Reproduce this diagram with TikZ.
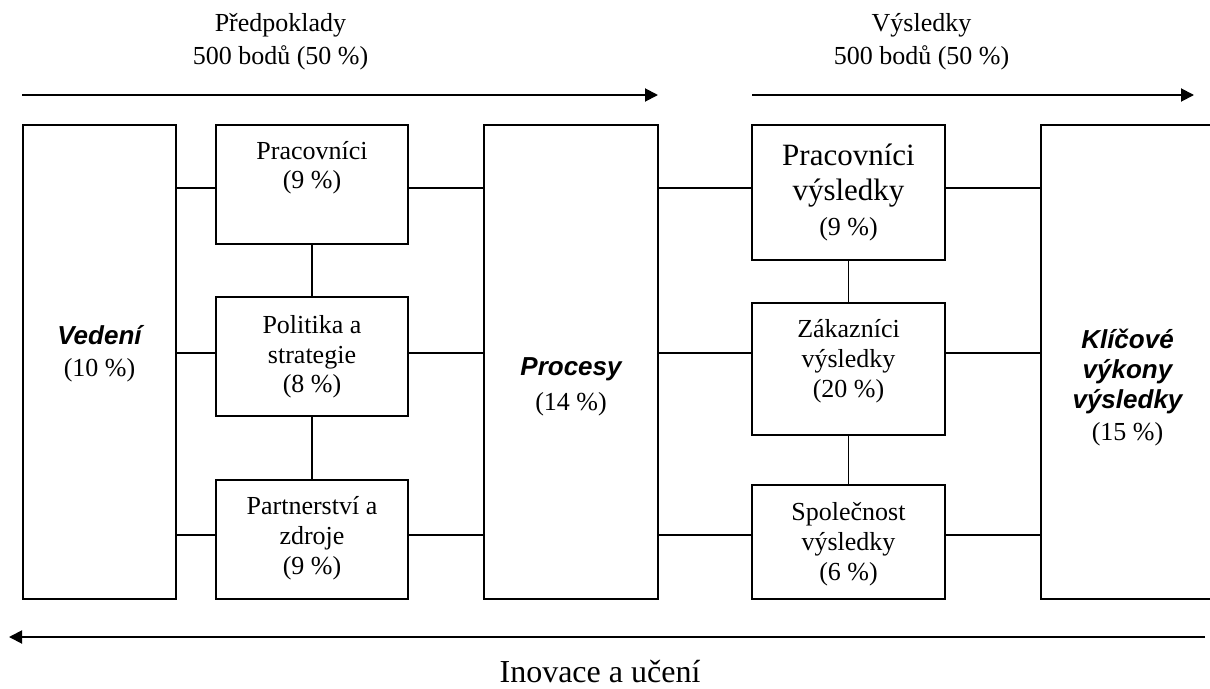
\documentclass[tikz,border=0pt]{standalone}
\usepackage{fontspec}
\setmainfont{Liberation Serif}
\newfontfamily\headsans{Liberation Sans}
\usetikzlibrary{arrows.meta}
\begin{document}
\begin{tikzpicture}[x=1pt,y=-1pt,
  box/.style={draw, line width=1.8pt, rectangle, inner sep=0pt},
  wire/.style={line width=1.8pt},
  flow/.style={line width=1.9pt, -{Triangle[length=13pt,width=13pt]}},
  txt/.style={align=center, inner sep=0pt}]
\useasboundingbox (0,0) rectangle (1210,688);

% frames
\node[box, minimum width=153pt, minimum height=474pt] (ved)  at (99.5,362) {};
\node[box, minimum width=192pt, minimum height=119pt] (prac) at (312,184.5) {};
\node[box, minimum width=192pt, minimum height=119pt] (pol)  at (312,356.5) {};
\node[box, minimum width=192pt, minimum height=119pt] (part) at (312,539.5) {};
\node[box, minimum width=174pt, minimum height=474pt] (proc) at (571,362) {};
\node[box, minimum width=193pt, minimum height=135pt] (pracv) at (848.5,192.5) {};
\node[box, minimum width=193pt, minimum height=132pt] (zak)  at (848.5,369) {};
\node[box, minimum width=193pt, minimum height=114pt] (spol) at (848.5,542) {};
\node[box, minimum width=174pt, minimum height=474pt] (klic) at (1128,362) {};

% texts
\node[txt, font=\fontsize{26}{32}\selectfont] (tved) at (99.5,354)
  {{\headsans\bfseries\itshape Vedení}\\(10 \%)};
\node[txt, font=\fontsize{26}{29}\selectfont] (tprac) at (312,168)
  {Pracovníci\\(9 \%)};
\node[txt, font=\fontsize{26}{29.5}\selectfont] (tpol) at (312,357)
  {Politika a\\strategie\\(8 \%)};
\node[txt, font=\fontsize{26}{30}\selectfont] (tpart) at (312,538.5)
  {Partnerství a\\zdroje\\(9 \%)};
\node[txt, font=\fontsize{26}{35}\selectfont] (tproc) at (571,387)
  {{\headsans\bfseries\itshape Procesy}\\(14 \%)};
\node[txt, font=\fontsize{31}{35}\selectfont] (tpracv) at (848.5,192)
  {Pracovníci\\výsledky\\{\fontsize{26}{30}\selectfont (9 \%)}};
\node[txt, font=\fontsize{26}{30}\selectfont] (tzak) at (848.5,361)
  {Zákazníci\\výsledky\\(20 \%)};
\node[txt, font=\fontsize{26}{30}\selectfont] (tspol) at (848.5,544)
  {Společnost\\výsledky\\(6 \%)};
\node[txt, font=\fontsize{26}{30}\selectfont] (tklic) at (1127.5,388)
  {{\headsans\bfseries\itshape Klíčové}\\{\headsans\bfseries\itshape výkony}\\{\headsans\bfseries\itshape výsledky}\\[2pt](15 \%)};

\node[txt, font=\fontsize{26}{33}\selectfont] (hpre) at (280.5,41.5)
  {Předpoklady\\500 bodů (50 \%)};
\node[txt, font=\fontsize{26}{33}\selectfont] (hvys) at (921.5,41.5)
  {Výsledky\\500 bodů (50 \%)};
\node[txt, font=\fontsize{32}{36}\selectfont] (hino) at (600,672)
  {Inovace a učení};

% row heights of the horizontal links
\coordinate (r1) at (0,188);
\coordinate (r2) at (0,353);
\coordinate (r3) at (0,535);

% links, left half
\draw[wire] (ved.east |- r1) -- (prac.west |- r1);
\draw[wire] (ved.east |- r2) -- (pol.west |- r2);
\draw[wire] (ved.east |- r3) -- (part.west |- r3);
\draw[wire] (prac.east |- r1) -- (proc.west |- r1);
\draw[wire] (pol.east |- r2) -- (proc.west |- r2);
\draw[wire] (part.east |- r3) -- (proc.west |- r3);
\draw[wire] (prac.south) -- (pol.north);
\draw[wire] (pol.south) -- (part.north);

% links, right half
\draw[wire] (proc.east |- r1) -- (pracv.west |- r1);
\draw[wire] (proc.east |- r2) -- (zak.west |- r2);
\draw[wire] (proc.east |- r3) -- (spol.west |- r3);
\draw[wire] (pracv.east |- r1) -- (klic.west |- r1);
\draw[wire] (zak.east |- r2) -- (klic.west |- r2);
\draw[wire] (spol.east |- r3) -- (klic.west |- r3);
\draw[wire] (pracv.south) -- (zak.north);
\draw[wire] (zak.south) -- (spol.north);

% flow arrows
\coordinate (a1s) at (22,95);
\coordinate (a1e) at (658,95);
\coordinate (a2s) at (752,95);
\coordinate (a2e) at (1194,95);
\coordinate (a3s) at (1205,637);
\coordinate (a3e) at (9,637);
\draw[flow] (a1s) -- (a1e);
\draw[flow] (a2s) -- (a2e);
\draw[flow] (a3s) -- (a3e);
\end{tikzpicture}
\end{document}
